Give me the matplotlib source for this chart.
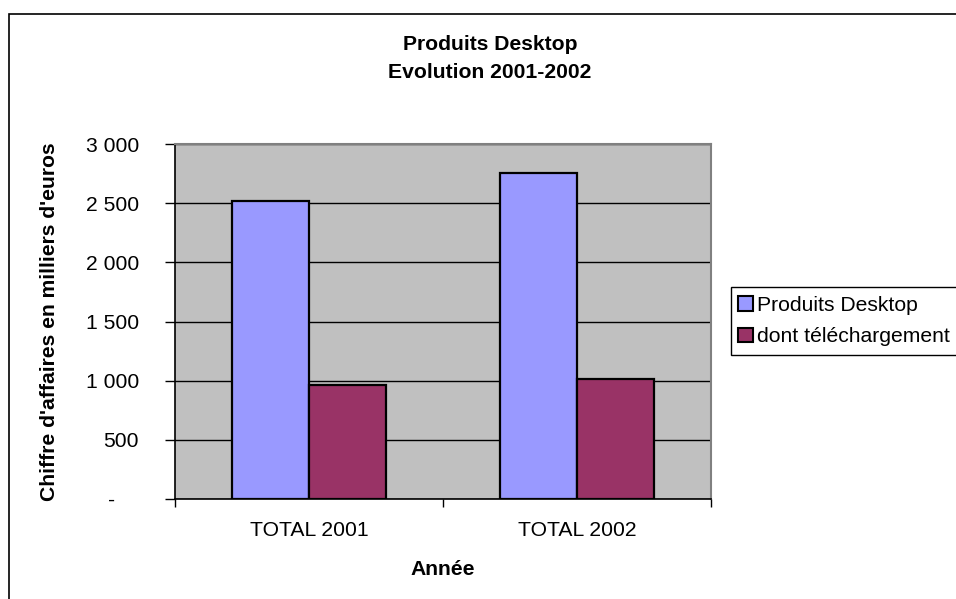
import matplotlib
matplotlib.use("Agg")
import matplotlib.pyplot as plt
from matplotlib.patches import Rectangle, Patch
import numpy as np

categories = ["TOTAL 2001", "TOTAL 2002"]
series_names = ["Produits Desktop", "dont téléchargement"]
produits_desktop = [2517, 2754]
dont_telechargement = [960, 1011]
yticks = [0, 500, 1000, 1500, 2000, 2500, 3000]
ytick_labels = ["-    ", "500", "1 000", "1 500", "2 000", "2 500", "3 000"]
colors = ["#9999FF", "#993366"]

plt.rcParams['font.family'] = ['Liberation Sans', 'DejaVu Sans']
FS = 15.2

W, H = 956, 599
fig = plt.figure(figsize=(W / 100, H / 100), dpi=100)

def px_rect(x0, y0, x1, y1, **kw):
    return Rectangle((x0 / W, 1 - y1 / H), (x1 - x0) / W, (y1 - y0) / H,
                     transform=fig.transFigure, **kw)

# outer chart-area border (extends beyond the right/bottom edge)
fig.patches.append(px_rect(9, 14, 1000, 650, fill=False, edgecolor="black",
                           linewidth=1.2))

L, R, T, B = 175, 711, 144, 499
ax = fig.add_axes([L / W, 1 - B / H, (R - L) / W, (B - T) / H])
ax.set_facecolor("#C0C0C0")

x = np.arange(len(categories))
bw = 0.287
ax.bar(x - bw / 2, produits_desktop, bw, color=colors[0], edgecolor="black",
       linewidth=1.6, zorder=3)
ax.bar(x + bw / 2, dont_telechargement, bw, color=colors[1], edgecolor="black",
       linewidth=1.6, zorder=3)

ax.set_xlim(-0.5, len(categories) - 0.5)
ax.set_ylim(0, 3000)
ax.set_yticks(yticks)
ax.set_yticklabels(ytick_labels)
ax.yaxis.grid(True, color="black", linewidth=1.0, zorder=1)
ax.set_axisbelow(True)

ax.set_xticks(x)
ax.set_xticklabels(categories)
ax.set_xticks(np.arange(-0.5, len(categories), 1.0), minor=True)
ax.tick_params(axis="x", which="major", length=0, pad=16, labelsize=FS)
ax.tick_params(axis="x", which="minor", length=6, width=1, direction="out")
ax.tick_params(axis="y", which="major", length=7, width=1, direction="out",
               pad=19, labelsize=FS)

for s in ["top", "right"]:
    ax.spines[s].set_color("#808080")
    ax.spines[s].set_linewidth(1.5)
for s in ["left", "bottom"]:
    ax.spines[s].set_color("black")
    ax.spines[s].set_linewidth(1.2)

ax.set_xlabel("Année", fontsize=FS, fontweight="bold", labelpad=14)
ax.set_ylabel("Chiffre d'affaires en milliers d'euros", fontsize=FS,
              fontweight="bold", labelpad=19)

fig.text(490 / W, 1 - 59 / H, "Produits Desktop\nEvolution 2001-2002",
         ha="center", va="center", fontsize=FS, fontweight="bold",
         linespacing=1.6)

# legend frame (extends past the right edge, as in the reference)
fig.patches.append(px_rect(731, 287, 1000, 355, fill=True, facecolor="white",
                           edgecolor="black", linewidth=1.0, zorder=4))
handles = [Patch(facecolor=c, edgecolor="black", linewidth=1.5) for c in colors]
leg = fig.legend(handles, series_names, loc="center left",
                 bbox_to_anchor=(738 / W, 1 - 321 / H), fontsize=FS,
                 frameon=False, handlelength=0.7,
                 handleheight=0.7, handletextpad=0.2, borderpad=0.0,
                 labelspacing=0.6, borderaxespad=0)
leg.set_zorder(5)

fig.savefig("out.png", dpi=100)
